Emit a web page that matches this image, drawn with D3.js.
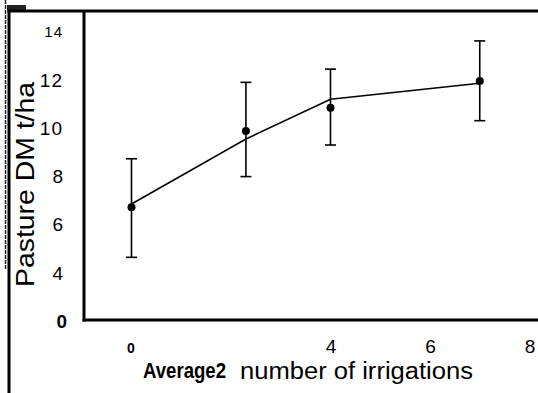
<!DOCTYPE html>
<html>
<head>
<meta charset="utf-8">
<script src="https://cdn.jsdelivr.net/npm/d3@7"></script>
<style>
  body { margin: 0; background: #fff; }
  svg { display: block; font-family: "Liberation Sans", Arial, sans-serif; }
</style>
</head>
<body>
<div class="container"></div>
<script>
const w = 538;
const h = 393;

// average number of irrigations for each treatment
const irrigations = [0, 2.3, 4, 7];
// pasture dry matter, t/ha
const meanDM = [6.73, 9.89, 10.86, 11.97];
const upperDM = [8.74, 11.91, 12.46, 13.63];
const lowerDM = [4.65, 8.0, 9.31, 10.32];
// fitted response line
const fittedDM = [6.86, 9.56, 11.21, 11.87];

const yTickValues = [2, 4, 6, 8, 10, 12, 14];
const yTickLabels = ["0", "4", "6", "8", "10", "12", "14"];
const xTickValues = [0, 4, 6, 8];
const xTickLabels = ["0", "4", "6", "8"];

const data = irrigations.map((d, i) => ({
  x: d, mean: meanDM[i], hi: upperDM[i], lo: lowerDM[i], fit: fittedDM[i]
}));

const svg = d3.select('.container').append('svg')
    .attr('width', w)
    .attr('height', h);

const x = d3.scaleLinear().domain([0, 8]).range([131.5, 529.5]);
const y = d3.scaleLinear().domain([2, 14.9]).range([321.2, 10.3]);

// frame
const frame = svg.append('g').attr('stroke', '#000').attr('fill', 'none');
frame.append('line').attr('x1', 5.5).attr('x2', 5.5).attr('y1', 0).attr('y2', 270)
    .attr('stroke-width', 1.5).attr('stroke-dasharray', '4,1').attr('stroke', '#222');
frame.append('rect').attr('x', 7).attr('y', 5).attr('width', 19).attr('height', 5)
    .attr('fill', '#222').attr('stroke', 'none');
frame.append('line').attr('x1', 9).attr('x2', 9).attr('y1', 9.5).attr('y2', h).attr('stroke-width', 3);
frame.append('line').attr('x1', 7.5).attr('x2', w).attr('y1', 11).attr('y2', 11).attr('stroke-width', 3);
frame.append('line').attr('x1', 84).attr('x2', 84).attr('y1', 11).attr('y2', 321.5).attr('stroke-width', 3);
frame.append('line').attr('x1', 82.5).attr('x2', w).attr('y1', 320).attr('y2', 320).attr('stroke-width', 3);

// y axis labels
const yAxis = d3.axisLeft(y)
    .tickValues(yTickValues)
    .tickSize(0)
    .tickPadding(0)
    .tickFormat((d, i) => yTickLabels[i]);

const gy = svg.append('g')
    .attr('transform', 'translate(63,0)')
    .call(yAxis);
gy.select('.domain').remove();
gy.selectAll('text')
    .attr('fill', '#000')
    .attr('font-size', null)
    .style('font-size', d => d === 14 ? '15px' : '19px')
    .style('font-weight', d => d === 2 ? 'bold' : 'normal')
    .style('letter-spacing', d => d >= 10 ? '1px' : '0px')
    .attr('x', d => d === 2 ? 4 : 0);

// x axis labels
const xAxis = d3.axisBottom(x)
    .tickValues(xTickValues)
    .tickSize(0)
    .tickPadding(0)
    .tickFormat((d, i) => xTickLabels[i]);

const gx = svg.append('g')
    .attr('transform', 'translate(0,339)')
    .call(xAxis);
gx.select('.domain').remove();
gx.selectAll('text')
    .attr('fill', '#000')
    .style('font-size', d => d === 0 ? '14px' : '19px')
    .style('font-weight', d => d === 0 ? 'bold' : 'normal')
    .attr('transform', d => d === 0 ? 'translate(-1,4)' : null);

// axis titles
svg.append('text')
    .attr('x', 143)
    .attr('y', 378)
    .attr('textLength', 83)
    .attr('lengthAdjust', 'spacingAndGlyphs')
    .style('font-size', '22px')
    .style('font-weight', 'bold')
    .text('Average2');

svg.append('text')
    .attr('x', 240)
    .attr('y', 379)
    .attr('textLength', 233)
    .attr('lengthAdjust', 'spacingAndGlyphs')
    .style('font-size', '23px')
    .text('number of irrigations');

svg.append('text')
    .attr('transform', 'translate(34,287) rotate(-90)')
    .attr('textLength', 205)
    .attr('lengthAdjust', 'spacingAndGlyphs')
    .style('font-size', '25px')
    .text('Pasture DM t/ha');

// error bars
const bars = svg.append('g').attr('stroke', '#000').attr('stroke-width', 1.6);
bars.selectAll('.err')
    .data(data)
    .enter()
    .append('line')
      .attr('x1', d => x(d.x))
      .attr('x2', d => x(d.x))
      .attr('y1', d => y(d.hi))
      .attr('y2', d => y(d.lo));

['hi', 'lo'].forEach(k => {
  bars.selectAll('.cap-' + k)
      .data(data)
      .enter()
      .append('line')
        .attr('x1', d => x(d.x) - 5.5)
        .attr('x2', d => x(d.x) + 5.5)
        .attr('y1', d => y(d[k]))
        .attr('y2', d => y(d[k]));
});

// fitted line
const line = d3.line()
    .x(d => x(d.x))
    .y(d => y(d.fit));

svg.append('path')
    .datum(data)
    .attr('d', line)
    .attr('fill', 'none')
    .attr('stroke', '#000')
    .attr('stroke-width', 1.6);

// means
svg.selectAll('.dot')
    .data(data)
    .enter()
    .append('circle')
      .attr('cx', d => x(d.x))
      .attr('cy', d => y(d.mean))
      .attr('r', 4)
      .attr('fill', '#000');
</script>
</body>
</html>
